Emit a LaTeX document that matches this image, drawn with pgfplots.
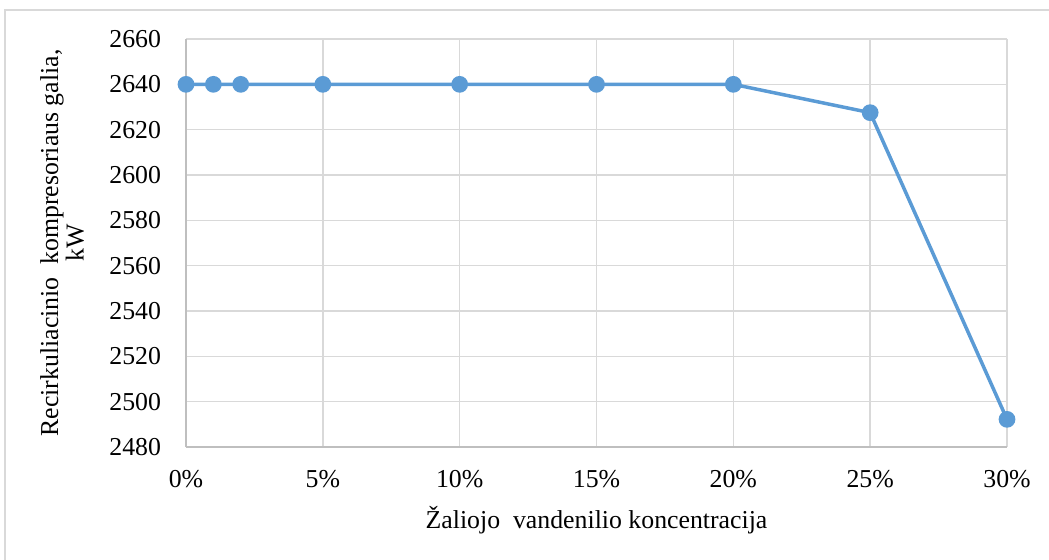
\documentclass[border=0pt]{standalone}
\usepackage{fontspec}
\setmainfont{Liberation Serif}
\usepackage{pgfplots}
\pgfplotsset{compat=1.18}
\definecolor{exblue}{HTML}{5B9BD5}
\definecolor{gridgray}{HTML}{D9D9D9}
\definecolor{axgray}{HTML}{BFBFBF}
\begin{document}
\fontsize{12.9}{14}\selectfont
\begin{tikzpicture}
\useasboundingbox (0,0) rectangle (524.5pt,279.5pt);
\draw[color=gridgray, line width=0.6pt] (2.5pt,-5pt) rectangle (530pt,274.5pt);
\begin{axis}[
  at={(93pt,56pt)}, anchor=south west,
  width=410.5pt, height=204pt, scale only axis,
  xmin=0, xmax=30, ymin=2480, ymax=2660,
  xtick={0,5,10,15,20,25,30},
  xticklabels={0\%,5\%,10\%,15\%,20\%,25\%,30\%},
  ytick={2480,2500,...,2660},
  /pgf/number format/assume math mode=true,
  /pgf/number format/set thousands separator={},
  tick style={draw=none},
  major tick length=0pt,
  grid=major,
  major grid style={color=gridgray, line width=0.8pt},
  axis line style={color=gridgray, line width=0.8pt},
  axis x line*=bottom, axis y line*=left,
  separate axis lines,
  x axis line style={color=axgray, line width=0.8pt, -},
  y axis line style={color=axgray, line width=0.8pt, -},
  xticklabel style={font=\fontsize{12.9}{14}\selectfont, yshift=-7pt},
  yticklabel style={font=\fontsize{12.9}{14}\selectfont, xshift=-8pt},
  xlabel={Žaliojo\ \ vandenilio koncentracija},
  ylabel={Recirkuliacinio\ \ kompresoriaus galia,\\kW},
  xlabel style={at={(axis description cs:0.5,-0.179)}, anchor=center, font=\fontsize{12.9}{14}\selectfont},
  ylabel style={at={(axis description cs:-0.151,0.5)}, anchor=center, align=center, font=\fontsize{12.9}{11.5}\selectfont},
  clip=false,
]
\addplot[color=exblue, line width=1.75pt, mark=*, mark size=3.3pt, mark options={fill=exblue, draw=exblue}]
coordinates {(0,2640) (1,2640) (2,2640) (5,2640) (10,2640) (15,2640) (20,2640) (25,2627.5) (30,2492.2)};
\end{axis}
\end{tikzpicture}
\end{document}
